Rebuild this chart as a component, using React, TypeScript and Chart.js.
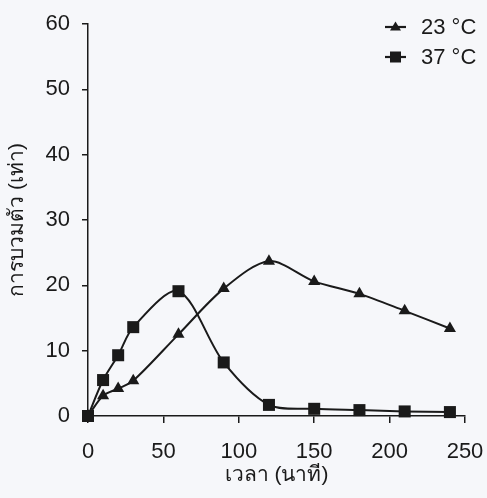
import React, { useEffect, useRef } from "react";
import { Chart, registerables } from "chart.js";

Chart.register(...registerables);

const timeMinutes = [0, 10, 20, 30, 60, 90, 120, 150, 180, 210, 240];
const swelling23 = [0, 3.1, 4.2, 5.4, 12.5, 19.5, 23.7, 20.6, 18.7, 16.1, 13.4];
const swelling37 = [0, 5.5, 9.3, 13.6, 19.1, 8.2, 1.7, 1.1, 0.9, 0.7, 0.6];
const seriesLabels = ["23 °C", "37 °C"];
const xTitle = "เวลา (นาที)";
const yTitle = "การบวมตัว (เท่า)";

const INK = "#1a1a1a";
const FONT = "'Liberation Sans', Arial, 'Noto Sans', sans-serif";

const legendPlugin = {
  id: "customLegend",
  afterDraw(chart: any) {
    const ctx = chart.ctx;
    ctx.save();
    const startX = 385;
    const lineLen = 21;
    const rows = [27, 57];
    chart.data.datasets.forEach((ds: any, i: number) => {
      const y = rows[i];
      ctx.strokeStyle = INK;
      ctx.lineWidth = 2.2;
      ctx.beginPath();
      ctx.moveTo(startX, y);
      ctx.lineTo(startX + lineLen, y);
      ctx.stroke();
      ctx.fillStyle = INK;
      const cx = startX + lineLen / 2;
      if (ds.pointStyle === "triangle") {
        ctx.beginPath();
        ctx.moveTo(cx, y - 5.5);
        ctx.lineTo(cx + 5.5, y + 3.5);
        ctx.lineTo(cx - 5.5, y + 3.5);
        ctx.closePath();
        ctx.fill();
      } else {
        ctx.fillRect(cx - 5.5, y - 5.5, 11, 11);
      }
      ctx.font = `22px ${FONT}`;
      ctx.textBaseline = "middle";
      ctx.textAlign = "left";
      ctx.fillText(ds.label, 421, y + 1);
    });
    ctx.restore();
  },
};

const bgPlugin = {
  id: "bg",
  beforeDraw(chart: any) {
    const ctx = chart.ctx;
    ctx.save();
    ctx.fillStyle = "#f6f7fa";
    ctx.fillRect(0, 0, chart.width, chart.height);
    ctx.restore();
  },
};

export default function App() {
  const ref = useRef<HTMLCanvasElement | null>(null);

  useEffect(() => {
    document.body.style.margin = "0";
    if (!ref.current) return;
    const chart = new Chart(ref.current, {
      type: "line",
      data: {
        datasets: [
          {
            label: seriesLabels[0],
            data: timeMinutes.map((t, i) => ({ x: t, y: swelling23[i] })),
            borderColor: INK,
            backgroundColor: INK,
            borderWidth: 2,
            pointStyle: "triangle",
            pointRadius: 7,
            pointBorderWidth: 0,
            tension: 0.3,
            clip: false,
          },
          {
            label: seriesLabels[1],
            data: timeMinutes.map((t, i) => ({ x: t, y: swelling37[i] })),
            borderColor: INK,
            backgroundColor: INK,
            borderWidth: 2,
            pointStyle: "rect",
            pointRadius: 8.5,
            pointBorderWidth: 0,
            tension: 0.3,
            clip: false,
          },
        ],
      },
      options: {
        animation: false,
        responsive: false,
        maintainAspectRatio: false,
        layout: { padding: { left: 0, top: 24, right: 22, bottom: 0 } },
        plugins: {
          legend: { display: false },
          tooltip: { enabled: false },
        },
        scales: {
          x: {
            type: "linear",
            min: 0,
            max: 250,
            ticks: {
              stepSize: 50,
              color: INK,
              font: { size: 22, family: FONT },
              padding: 16,
            },
            grid: {
              drawOnChartArea: false,
              drawTicks: true,
              tickLength: 7,
              color: INK,
              lineWidth: 1.5,
            },
            border: { display: true, color: INK, width: 1.5 },
            title: {
              display: true,
              text: xTitle,
              color: INK,
              font: { size: 21, family: FONT },
              padding: { top: 0, bottom: 10 },
            },
            afterFit(scale: any) {
              scale.height = 82;
              scale.paddingLeft = 0;
              scale.paddingRight = 0;
            },
          },
          y: {
            type: "linear",
            min: 0,
            max: 60,
            ticks: {
              stepSize: 10,
              color: INK,
              font: { size: 22, family: FONT },
              padding: 12,
            },
            grid: {
              drawOnChartArea: false,
              drawTicks: true,
              tickLength: 6,
              color: INK,
              lineWidth: 1.5,
            },
            border: { display: true, color: INK, width: 1.5 },
            title: {
              display: true,
              text: yTitle,
              color: INK,
              font: { size: 21, family: FONT },
              padding: { top: 5, bottom: 0 },
            },
            afterFit(scale: any) {
              scale.width = 88;
              scale.paddingTop = 0;
              scale.paddingBottom = 0;
            },
          },
        },
      },
      plugins: [bgPlugin, legendPlugin],
    });
    return () => chart.destroy();
  }, []);

  return (
    <div style={{ position: "fixed", left: 0, top: 0, width: 487, height: 498 }}>
      <canvas ref={ref} width={487} height={498} style={{ width: 487, height: 498, display: "block" }} />
    </div>
  );
}
